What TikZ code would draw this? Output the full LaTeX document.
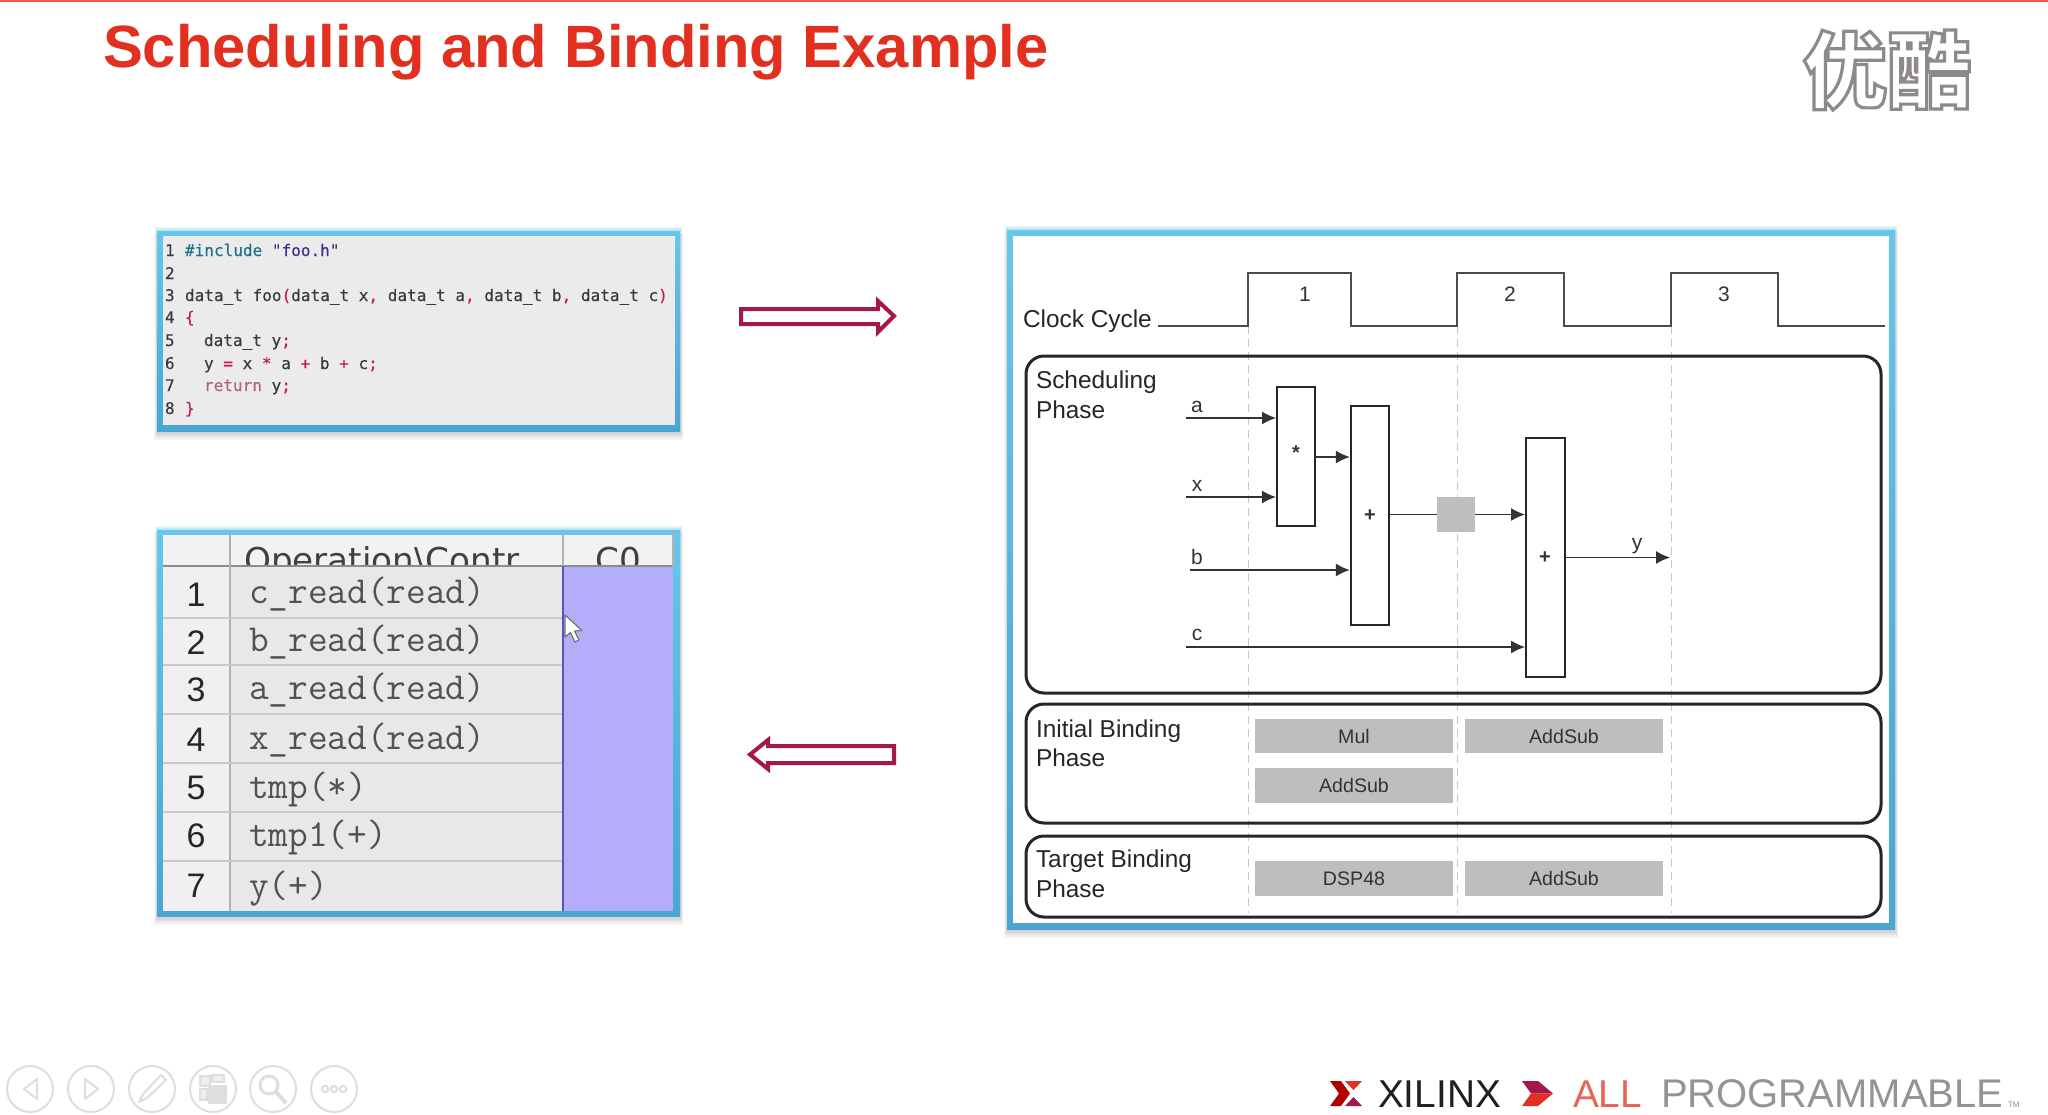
\documentclass[tikz,border=0pt]{standalone}
\usepackage{fontspec}
\setmainfont{Liberation Sans}
\newfontfamily\codefont[FakeBold=0.25]{DejaVu Sans Mono}
\newfontfamily\gridfont{DejaVu Sans}
\newfontfamily\cjkfont{Noto Sans CJK SC Black}
\usetikzlibrary{arrows.meta,calc}
\definecolor{titlered}{HTML}{E1301F}
\definecolor{arrowred}{HTML}{A3174B}
\definecolor{panelA}{HTML}{66C6EC}
\definecolor{panelB}{HTML}{4AA5D2}
\definecolor{codebg}{HTML}{EBEBEC}
\definecolor{codefg}{HTML}{3A3A3A}
\definecolor{incl}{HTML}{1F6F8F}
\definecolor{strc}{HTML}{3B3090}
\definecolor{pinkc}{HTML}{C4185C}
\definecolor{retc}{HTML}{B0686F}
\definecolor{cellbg}{HTML}{E8E8E8}
\definecolor{numbg}{HTML}{F1EFF1}
\definecolor{sepc}{HTML}{C9C9C9}
\definecolor{bluec}{HTML}{B4AEFA}
\definecolor{blueline}{HTML}{5A55BE}
\definecolor{binding}{HTML}{BFBEBF}
\definecolor{wire}{HTML}{333333}
\definecolor{iconc}{HTML}{DEDEDE}
\newcommand\pk[1]{\textcolor{pinkc}{#1}}
\newcommand\panelbox[4]{%
  \foreach \i in {1,...,6}{\fill[black,opacity=.03] (#1-\i*0.5,#2+3) rectangle (#3+\i*0.5,#4+\i*1.3+1);}
  \foreach \i in {1,...,4}{\fill[panelA,opacity=.14] (#1-\i*0.5,#2-\i*1.1) rectangle (#3+\i*0.5,#2+4);}
  \shade[top color=panelA,bottom color=panelB] (#1,#2) rectangle (#3,#4);
}
\tikzset{
  txt/.style={inner sep=0pt,outer sep=0pt,anchor=base west},
  ctr/.style={inner sep=0pt,outer sep=0pt,anchor=center},
  codeline/.style={txt,text=codefg,font=\codefont\fontsize{8.02}{10}\selectfont},
  gridtxt/.style={txt,text=black!68,font=\ttfamily\fontsize{19.1}{20}\selectfont},
  gridnum/.style={inner sep=0pt,outer sep=0pt,anchor=base,text=black!85,font=\fontsize{17}{20}\selectfont},
  hdr/.style={inner sep=0pt,outer sep=0pt,anchor=base,text=black!75,font=\gridfont\fontsize{17.1}{20}\selectfont},
  phase/.style={txt,text=black!85,font=\fontsize{12.2}{14}\selectfont},
  phasebox/.style={draw=black!85,line width=1.5pt,rounded corners=9pt},
  clk/.style={draw=black!70,line width=1.3pt},
  cyc/.style={draw=black!22,line width=.5pt,dash pattern=on 4pt off 2.5pt},
  opbox/.style={draw=black!85,fill=white,line width=1pt,inner sep=0pt,outer sep=0pt},
  opsym/.style={ctr,font=\bfseries\fontsize{10}{12}\selectfont,text=black!80},
  sig/.style={draw=wire,line width=.7pt,shorten >=0.5pt,-{Latex[length=7pt,width=6.5pt]}},
  siglabel/.style={ctr,font=\fontsize{10.5}{12}\selectfont,text=black!80},
  res/.style={fill=binding,inner sep=0pt,outer sep=0pt,minimum width=99pt,minimum height=17.2pt,text=black!80,font=\fontsize{9.8}{12}\selectfont},
  bigarrow/.style={draw=arrowred,fill=white,line width=2pt,miter limit=6},
  icon/.style={draw=iconc,line width=1pt},
}
\begin{document}
\begin{tikzpicture}[x=0.5pt,y=-0.5pt]
\useasboundingbox (0,0) rectangle (2048,1114);
\fill[white] (0,0) rectangle (2048,1114);
\fill[titlered!80] (0,0) rectangle (2048,1.5);
% title
\node[txt,text=titlered,font=\bfseries\fontsize{29.85}{34}\selectfont] (title) at (103,67) {Scheduling and Binding Example};
% watermark
\node[ctr] (wm) at (1887,70) {\special{pdf:code q 2 Tr 1.6 w 0.56 0.54 0.54 RG 1 1 1 rg}\cjkfont\fontsize{42}{45}\selectfont 优酷\special{pdf:code Q}};
% code panel
\panelbox{157}{231}{680}{431}
\fill[codebg] (163,236) rectangle (675,425);
\foreach \n/\yy in {1/256,2/279,3/301,4/323,5/346,6/369,7/391,8/414}{
  \node[codeline] (ln\n) at (165,\yy) {\n};
}
\node[codeline] (c1) at (185,256) {\textcolor{incl}{\#include} \textcolor{strc}{"foo.h"}};
\node[codeline] (c3) at (185,301) {data\_t foo\pk{(}data\_t x\pk{,} data\_t a\pk{,} data\_t b\pk{,} data\_t c\pk{)}};
\node[codeline] (c4) at (185,323) {\pk{\{}};
\node[codeline] (c5) at (204,346) {data\_t y\pk{;}};
\node[codeline] (c6) at (204,369) {y \pk{=} x \pk{*} a \pk{+} b \pk{+} c\pk{;}};
\node[codeline] (c7) at (204,391) {\textcolor{retc}{return} y\pk{;}};
\node[codeline] (c8) at (185,414) {\pk{\}}};
% arrows between panels
\draw[bigarrow] (741,309) -- (878,309) -- (878,301) -- (894,316) -- (878,332) -- (878,324) -- (741,324) -- cycle;
\draw[bigarrow] (894,746) -- (768,746) -- (768,740) -- (750,754.5) -- (768,769) -- (768,763) -- (894,763) -- cycle;
% table panel
\panelbox{157}{530}{680}{916}
\fill[cellbg] (163,535) rectangle (563,911);
\fill[numbg] (163,535) rectangle (230,911);
\fill[black!5] (163,535) rectangle (673,566);
\fill[bluec] (563,566) rectangle (673,911);
\begin{scope}
  \clip (163,535) rectangle (673,566);
  \node[hdr] (h1) at (382,572) {Operation\textbackslash Contr};
  \node[hdr] (h2) at (618,572) {C0};
\end{scope}
\draw[black!45,line width=1pt] (163,566) -- (673,566);
\draw[black!30,line width=.8pt] (230,535) -- (230,911);
\draw[black!30,line width=.8pt] (563,535) -- (563,566);
\draw[black!30,line width=.8pt] (673,535) -- (673,566);
\foreach \yy in {618,665,714,763,812,861}{
  \draw[sepc,line width=1pt] (163,\yy) -- (563,\yy);
  \draw[bluec!90!black!70,opacity=.25,line width=.5pt] (563,\yy) -- (673,\yy);
}
\draw[blueline,line width=1.1pt] (563,566) -- (563,911);
\foreach \n/\yy/\t in {1/603/c\_read(read),2/651/b\_read(read),3/699/a\_read(read),4/749/x\_read(read),5/798/tmp(*),6/846/tmp1(+),7/897/y(+)}{
  \node[gridtxt] (r\n) at (249,\yy) {\t};
}
\foreach \n/\yy in {1/606,2/654,3/701,4/751,5/799,6/847,7/897}{
  \node[gridnum] (k\n) at (196,\yy) {\n};
}
% cursor
\draw[black!55,fill=white,line width=.6pt,line join=round] (565,615) -- (565,637) -- (570.5,632.5) -- (575,642) -- (579,640) -- (574.5,631) -- (582,630.5) -- cycle;
% right panel
\panelbox{1007}{230}{1895}{929}
\fill[white] (1013,236) rectangle (1889,923);
% cycle guides
\foreach \xx in {1248,1457,1671}{
  \draw[cyc] (\xx,326) -- (\xx,913);
}
% clock
\draw[clk] (1158,326) -- (1248,326) -- (1248,273) -- (1351,273) -- (1351,326) -- (1457,326) -- (1457,273) -- (1564,273) -- (1564,326) -- (1671,326) -- (1671,273) -- (1778,273) -- (1778,326) -- (1885,326);
\node[inner sep=0pt,outer sep=0pt,anchor=base west,text=black!85,font=\fontsize{12.2}{14}\selectfont] (cc) at (1023,327) {Clock Cycle};
\foreach \n/\xx in {1/1305,2/1510,3/1724}{
  \node[ctr,font=\fontsize{10.5}{12}\selectfont,text=black!80] (cy\n) at (\xx,294) {\n};
}
% phase frames
\draw[phasebox] (1026,356) rectangle (1881,693);
\draw[phasebox] (1026,704) rectangle (1881,823);
\draw[phasebox] (1026,836) rectangle (1881,917);
\node[phase] (p1a) at (1036,388) {Scheduling};
\node[phase] (p1b) at (1036,418) {Phase};
\node[phase] (p2a) at (1036,737) {Initial Binding};
\node[phase] (p2b) at (1036,766) {Phase};
\node[phase] (p3a) at (1036,867) {Target Binding};
\node[phase] (p3b) at (1036,897) {Phase};
% operators
\node[opbox,minimum width=19pt,minimum height=69.5pt] (mul) at (1296,456.5) {};
\node[opbox,minimum width=19.2pt,minimum height=109.5pt] (add1) at (1370,515.5) {};
\node[opbox,minimum width=19.5pt,minimum height=119.5pt] (add2) at (1545.5,557.5) {};
\node[fill=binding,inner sep=0pt,outer sep=0pt,minimum width=19pt,minimum height=17.5pt] (reg) at (1456,514.5) {};
\node[opsym] at (1296,453) {*};
\node[opsym] at (1370,516) {+};
\node[opsym] at (1545,558) {+};
% signals
\coordinate (ia) at (1186,418);
\coordinate (ix) at (1186,497);
\coordinate (ib) at (1190,570);
\coordinate (ic) at (1186,647);
\coordinate (oy) at (1671,557.5);
\draw[sig] (ia) -- (ia -| mul.west);
\draw[sig] (ix) -- (ix -| mul.west);
\draw[sig] ($(mul.east)+(0,0.5)$) -- ($(add1.west)+(0,-58.5)$);
\draw[sig] (ib) -- (ib -| add1.west);
\draw[draw=wire,line width=.7pt] (reg.west -| add1.east) -- (reg.west);
\draw[sig] (reg.east) -- (reg.east -| add2.west);
\draw[sig] (ic) -- (ic -| add2.west);
\draw[sig] (add2.east) -- (oy);
\node[siglabel] (la) at (1197,407) {a};
\node[siglabel] (lx) at (1197,486) {x};
\node[siglabel] (lb) at (1197,557) {b};
\node[siglabel] (lc) at (1197,635) {c};
\node[siglabel] (ly) at (1637,546) {y};
% bindings
\node[res] (b1) at (1354,736) {Mul};
\node[res] (b2) at (1564,736) {AddSub};
\node[res] (b3) at (1354,785.5) {AddSub};
\node[res] (b4) at (1354,878.5) {DSP48};
\node[res] (b5) at (1564,878.5) {AddSub};
% slide controls
\foreach \xx in {30,91,152,213,273,334}{
  \draw[icon] (\xx,1089) circle (23);
}
\draw[icon,line join=round] (37,1079) -- (24,1089) -- (37,1099) -- cycle;
\draw[icon,line join=round] (85,1079) -- (98,1089) -- (85,1099) -- cycle;
\draw[icon,line join=round] (139,1102) -- (143,1094) -- (161,1075) -- (166,1080) -- (147,1098) -- cycle;
\draw[icon,fill=iconc!50] (200,1076) rectangle (210,1086);
\draw[icon,fill=iconc!50] (212,1075) rectangle (224,1082);
\draw[icon,fill=iconc!50] (200,1089) rectangle (207,1100);
\draw[icon,fill=iconc] (209,1086) rectangle (226,1103);
\draw[icon,line width=1.5pt] (269,1085) circle (9);
\draw[icon,line width=2pt] (276,1092) -- (286,1103);
\foreach \xx in {325,334,343}{\draw[icon] (\xx,1089) circle (3.2);}
% branding
\fill[red!70!black] (1330,1081) -- (1341,1081) -- (1350,1093.5) -- (1341,1106) -- (1330,1106) -- (1339,1093.5) -- cycle;
\fill[titlered] (1345,1081) -- (1362,1081) -- (1353.5,1090) -- cycle;
\fill[arrowred] (1353.5,1097) -- (1362,1106) -- (1345,1106) -- cycle;
\fill[arrowred] (1522,1081) -- (1538,1081) -- (1553,1093.5) -- (1531,1093.5) -- cycle;
\fill[titlered] (1531,1093.5) -- (1553,1093.5) -- (1538,1106) -- (1522,1106) -- cycle;
\node[txt,text=black!88,font=\fontsize{19.4}{22}\selectfont] (xil) at (1378,1107) {XILINX};
\node[txt,text=titlered!75!white,font=\fontsize{19.4}{22}\selectfont] (all) at (1573,1107) {ALL};
\node[txt,text=black!42,font=\fontsize{20}{22}\selectfont] (prog) at (1661,1107) {PROGRAMMABLE};
\node[txt,text=black!45,font=\fontsize{4}{5}\selectfont] (tm) at (2008,1107) {TM};
\end{tikzpicture}
\end{document}
